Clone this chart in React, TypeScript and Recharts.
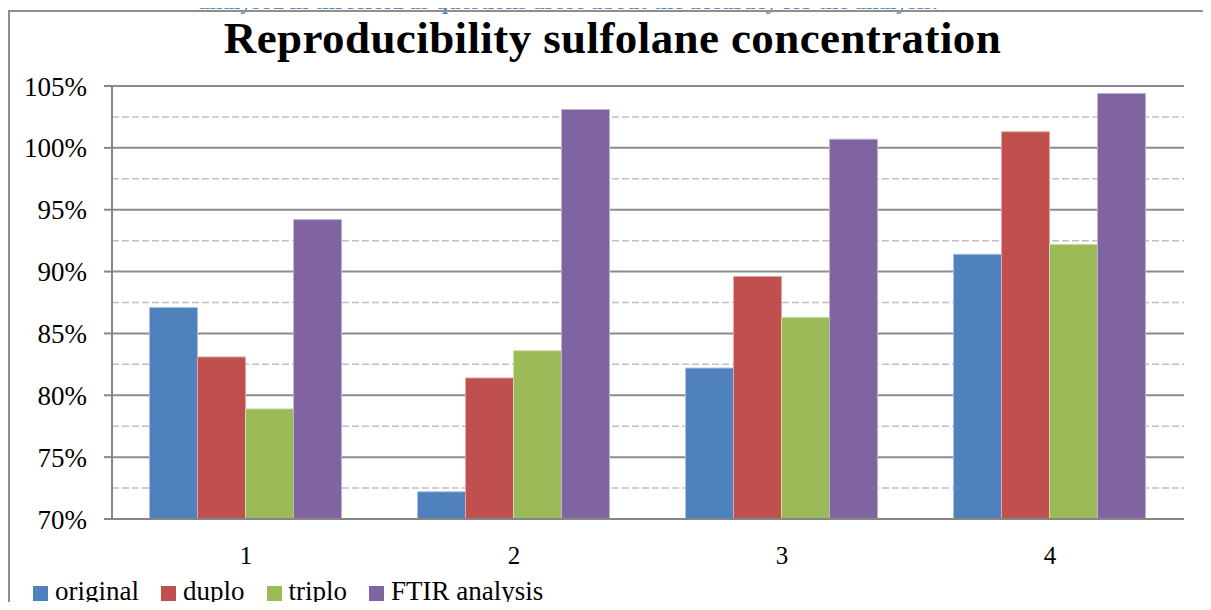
import { BarChart, Bar, XAxis, YAxis, CartesianGrid, Legend } from "recharts";

const categories = ["1", "2", "3", "4"];
const original = [87.1, 72.2, 82.2, 91.4];
const duplo = [83.1, 81.4, 89.6, 101.3];
const triplo = [78.9, 83.6, 86.3, 92.2];
const ftir = [94.2, 103.1, 100.7, 104.4];
const majorTicks = [70, 75, 80, 85, 90, 95, 100, 105];
const minorTicks = [72.5, 77.5, 82.5, 87.5, 92.5, 97.5, 102.5];

const series = [
  { key: "original", name: "original", color: "#4F81BD", edge: "#a7c0df" },
  { key: "duplo", name: "duplo", color: "#C0504D", edge: "#dfa8a6" },
  { key: "triplo", name: "triplo", color: "#9BBB59", edge: "#cddcac" },
  { key: "ftir", name: "FTIR analysis", color: "#8064A2", edge: "#bfb1d0" },
];

const data = categories.map((c, i) => ({
  cat: c,
  original: original[i],
  duplo: duplo[i],
  triplo: triplo[i],
  ftir: ftir[i],
}));

const serif = "'Liberation Serif', 'Times New Roman', serif";

function LegendRow() {
  return (
    <div style={{ fontFamily: serif, fontSize: 27, lineHeight: "40px", height: 40, whiteSpace: "nowrap", color: "#000" }}>
      {series.map((s) => (
        <span key={s.key} style={{ marginRight: 22 }}>
          <span
            style={{
              display: "inline-block",
              width: 15,
              height: 15,
              background: s.color,
              marginRight: 7,
              verticalAlign: -1,
            }}
          />
          {s.name}
        </span>
      ))}
    </div>
  );
}

export default function App() {
  return (
    <div style={{ position: "relative", width: 1211, height: 610, margin: -8, overflow: "hidden", background: "#fff" }}>
      <div
        style={{
          position: "absolute",
          left: 198,
          top: -10,
          fontFamily: serif,
          fontWeight: "bold",
          fontSize: 23,
          lineHeight: 1,
          color: "#5a87c2",
          whiteSpace: "nowrap",
        }}
      >
        analysed in threefold as questions arose about the accuracy for the analysis.
      </div>
      <div
        style={{
          position: "absolute",
          left: 8,
          top: 10,
          width: 1240,
          height: 640,
          border: "2px solid #8e8e8e",
        }}
      />
      <div
        style={{
          position: "absolute",
          left: 0,
          width: 1225,
          top: 16,
          textAlign: "center",
          fontFamily: serif,
          fontWeight: "bold",
          fontSize: 45,
          lineHeight: 1,
          letterSpacing: 0.4,
          whiteSpace: "nowrap",
        }}
      >
        Reproducibility sulfolane concentration
      </div>
      <div style={{ position: "absolute", left: 0, top: 0 }}>
        <BarChart
          width={1211}
          height={610}
          data={data}
          margin={{ top: 86, right: 27, left: 52, bottom: 11 }}
          barCategoryGap="14%"
          barGap={0}
        >
          <CartesianGrid horizontalValues={minorTicks} vertical={false} stroke="#c0c0c0" strokeWidth={1.5} strokeDasharray="7 3" />
          <CartesianGrid vertical={false} stroke="#8c8c8c" strokeWidth={2} />
          <XAxis
            dataKey="cat"
            height={40}
            axisLine={{ stroke: "#868686", strokeWidth: 2 }}
            tickLine={false}
            tickSize={6}
            tickMargin={21}
            tick={{ fill: "#000", fontFamily: serif, fontSize: 25 }}
          />
          <YAxis
            domain={[70, 105]}
            ticks={majorTicks}
            interval={0}
            width={60}
            axisLine={{ stroke: "#868686", strokeWidth: 2 }}
            tickLine={{ stroke: "#868686", strokeWidth: 2 }}
            tickSize={8}
            tickMargin={17}
            tickFormatter={(v: number) => `${v}%`}
            tick={{ fill: "#000", fontFamily: serif, fontSize: 27 }}
          />
          <Legend
            verticalAlign="bottom"
            align="left"
            content={() => <LegendRow />}
            wrapperStyle={{ left: 33, bottom: -1, width: "auto" }}
          />
          {series.map((s) => (
            <Bar
              key={s.key}
              dataKey={s.key}
              name={s.name}
              fill={s.color}
              stroke={s.edge}
              strokeWidth={1}
              isAnimationActive={false}
            />
          ))}
        </BarChart>
      </div>
    </div>
  );
}
